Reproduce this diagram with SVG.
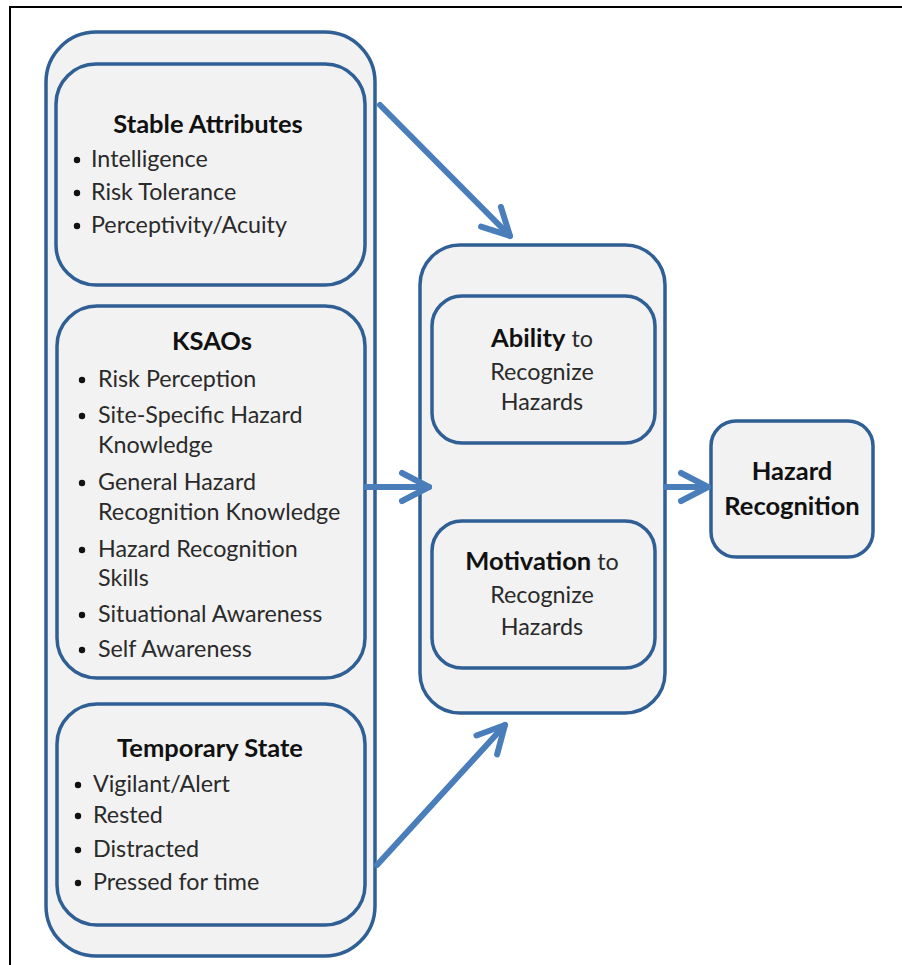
<svg xmlns="http://www.w3.org/2000/svg" width="902" height="965" viewBox="0 0 902 965">
<defs>
<style>
.box{fill:#f2f2f2;stroke:#2f5f94;stroke-width:3.5}
.t{font-family:Lato,"Open Sans","Liberation Sans",sans-serif;font-size:23.3px;fill:#2a2a2a}
.b{font-weight:bold;fill:#111;font-size:25.5px}
.c{text-anchor:middle}
.conn{fill:none;stroke:#4a7ebb;stroke-width:6;stroke-linecap:round}
.frame{stroke:#000;stroke-width:2;fill:none}
</style>
<marker id="ah" markerUnits="userSpaceOnUse" viewBox="-34 -20 40 40" refX="0" refY="0" markerWidth="40" markerHeight="40" orient="auto">
<path d="M-27,-14 L0,0 L-27,14" fill="none" stroke="#4a7ebb" stroke-width="6" stroke-linecap="round" stroke-linejoin="round"/>
</marker>
</defs>
<rect width="902" height="965" fill="#fff"/>
<path class="frame" d="M10,965 V7 H902"/>

<g id="left-group">
<rect class="box" x="46" y="32" width="329" height="924" rx="50"/>
</g>
<g id="stable-attributes">
<rect class="box" x="56" y="64" width="309" height="221" rx="40"/>
<text class="t b c" x="208" y="133">Stable Attributes</text>
<text class="t" x="91" y="167">Intelligence</text>
<text class="t" x="91" y="200">Risk Tolerance</text>
<text class="t" x="91" y="233">Perceptivity/Acuity</text>
<circle cx="77" cy="160" r="3.2" fill="#111"/>
<circle cx="77" cy="193" r="3.2" fill="#111"/>
<circle cx="77" cy="226" r="3.2" fill="#111"/>
</g>
<g id="ksaos">
<rect class="box" x="57" y="306" width="308" height="372" rx="40"/>
<text class="t b c" x="212" y="350">KSAOs</text>
<text class="t" x="98" y="387">Risk Perception</text>
<text class="t" x="98" y="423">Site-Specific Hazard</text>
<text class="t" x="98" y="453">Knowledge</text>
<text class="t" x="98" y="490">General Hazard</text>
<text class="t" x="98" y="520">Recognition Knowledge</text>
<text class="t" x="98" y="557">Hazard Recognition</text>
<text class="t" x="98" y="586">Skills</text>
<text class="t" x="98" y="622">Situational Awareness</text>
<text class="t" x="98" y="657">Self Awareness</text>
<circle cx="82" cy="380" r="3.2" fill="#111"/>
<circle cx="82" cy="416" r="3.2" fill="#111"/>
<circle cx="82" cy="483" r="3.2" fill="#111"/>
<circle cx="82" cy="550" r="3.2" fill="#111"/>
<circle cx="82" cy="615" r="3.2" fill="#111"/>
<circle cx="82" cy="650" r="3.2" fill="#111"/>
</g>
<g id="temporary-state">
<rect class="box" x="57" y="704" width="308" height="221" rx="40"/>
<text class="t b c" x="210" y="757">Temporary State</text>
<text class="t" x="93" y="792">Vigilant/Alert</text>
<text class="t" x="93" y="823">Rested</text>
<text class="t" x="93" y="857">Distracted</text>
<text class="t" x="93" y="890">Pressed for time</text>
<circle cx="78" cy="785" r="3.2" fill="#111"/>
<circle cx="78" cy="816" r="3.2" fill="#111"/>
<circle cx="78" cy="850" r="3.2" fill="#111"/>
<circle cx="78" cy="883" r="3.2" fill="#111"/>
</g>

<g id="middle-group">
<rect class="box" x="420" y="245" width="245" height="468" rx="40"/>
</g>
<g id="ability">
<rect class="box" x="432" y="296" width="223" height="147" rx="30"/>
<text class="t c" x="542" y="347"><tspan class="b">Ability</tspan> to</text>
<text class="t c" x="542" y="380">Recognize</text>
<text class="t c" x="542" y="410">Hazards</text>
</g>
<g id="motivation">
<rect class="box" x="432" y="521" width="223" height="147" rx="30"/>
<text class="t c" x="542" y="570"><tspan class="b">Motivation</tspan> to</text>
<text class="t c" x="542" y="603">Recognize</text>
<text class="t c" x="542" y="635">Hazards</text>
</g>
<g id="hazard-recognition">
<rect class="box" x="711" y="421" width="162" height="136" rx="25"/>
<text class="t b c" x="792" y="480">Hazard</text>
<text class="t b c" x="792" y="515">Recognition</text>
</g>

<g id="connectors">
<line class="conn" x1="380" y1="105" x2="510" y2="236" marker-end="url(#ah)"/>
<line class="conn" x1="366" y1="487" x2="429" y2="487" marker-end="url(#ah)"/>
<line class="conn" x1="377" y1="865" x2="505" y2="725" marker-end="url(#ah)"/>
<line class="conn" x1="666" y1="487" x2="708" y2="487" marker-end="url(#ah)"/>
</g>
</svg>
